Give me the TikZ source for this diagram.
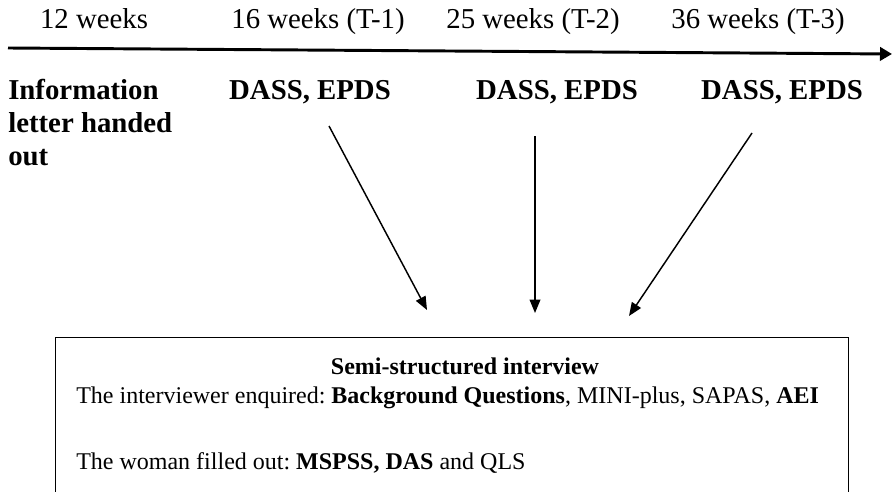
\documentclass[tikz,border=0pt]{standalone}
\usepackage{fontspec}
\setmainfont{Liberation Serif}
\usepackage{tikz}
\usetikzlibrary{arrows.meta,positioning}
\frenchspacing

\begin{document}
\begin{tikzpicture}[
    x=0.75pt, y=-0.75pt,
    week/.style={inner sep=0pt, anchor=base, font=\fontsize{21.6}{24.75}\selectfont},
    measure/.style={inner sep=0pt, font=\fontsize{21.6}{24.75}\selectfont\bfseries},
    frame/.style={draw, line width=0.8pt, minimum width=594.75pt, minimum height=150pt, anchor=north west},
    boxtext/.style={inner sep=0pt, font=\fontsize{18}{21.6}\selectfont},
    timeline/.style={-{Triangle[length=9pt, width=10pt]}, line width=2.2pt},
    arrow/.style={-{Triangle[length=10pt, width=8pt]}, line width=1.1pt}
]
    \useasboundingbox (0,0) rectangle (892,492);

    % time axis
    \coordinate (start) at (8,48);
    \coordinate (end) at (892,54);
    \draw[timeline] (start) -- (end);

    \node[week] (wk12) at (94,29) {12 weeks};
    \node[week] (wk16) at (318,29) {16 weeks (T-1)};
    \node[week] (wk25) at (533,29) {25 weeks (T-2)};
    \node[week] (wk36) at (758,29) {36 weeks (T-3)};

    \node[measure, align=left, anchor=north west] (info) at (8,79) {Information\\letter handed\\out};
    \node[measure] (dass1) at (310,92) {DASS, EPDS};
    \node[measure] (dass2) at (557,92) {DASS, EPDS};
    \node[measure] (dass3) at (782,92) {DASS, EPDS};

    % interview box
    \node[frame] (interview) at (55,337) {};
    \node[boxtext, font=\fontsize{18}{21.6}\selectfont\bfseries] (title) at (465,366) {Semi-structured interview};
    \node[boxtext, anchor=west] (asked) at (76,398) {The interviewer enquired: \textbf{Background Questions}, MINI-plus, SAPAS, \textbf{AEI}};
    \node[boxtext, anchor=west] (filled) at (76,463) {The woman filled out: \textbf{MSPSS, DAS} and QLS};

    \coordinate (from1) at (329,126);
    \coordinate (from2) at (535,136);
    \coordinate (from3) at (752,133);
    \coordinate (to1) at (427,310);
    \coordinate (to2) at (535,313);
    \coordinate (to3) at (629,316);

    \draw[arrow] (from1) -- (to1);
    \draw[arrow] (from2) -- (to2);
    \draw[arrow] (from3) -- (to3);
\end{tikzpicture}
\end{document}
